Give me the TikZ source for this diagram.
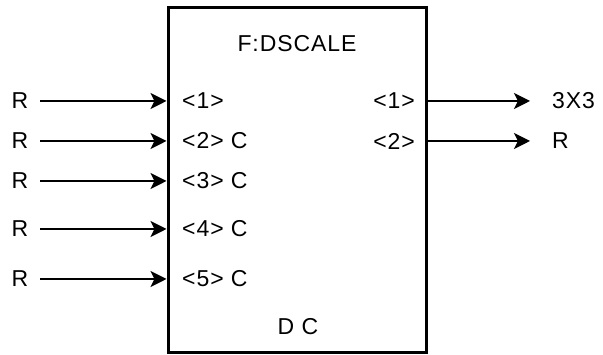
\documentclass[tikz,border=0pt]{standalone}
\usepackage{fontspec}
\setmainfont[LetterSpace=4]{Liberation Sans}
\usetikzlibrary{arrows.meta}
\begin{document}
\begin{tikzpicture}[x=1pt,y=1pt,
  lbl/.style={inner sep=0pt, font=\fontsize{23}{26}\selectfont},
  sig/.style={line width=1.6pt, -{Stealth[length=16pt,width=16pt,inset=4pt]}},
  blk/.style={draw, line width=3pt, inner sep=0pt}]
\useasboundingbox (0,0) rectangle (603,355);
\fill[white] (0,0) rectangle (603,355);
\node[blk, minimum width=258pt, minimum height=345pt] (box) at (297,174.5) {};
\node[lbl] (title) at (297,311) {F:DSCALE};
\node[lbl] (dc) at (298,28) {D C};
% inputs
\foreach \i/\y/\t in {1/254/{<1>},2/214/{<2> C},3/174/{<3> C},4/126/{<4> C},5/76/{<5> C}}{
  \node[lbl] (r\i) at (20,\y) {R};
  \coordinate (s\i) at (40,\y);
  \coordinate (e\i) at (box.west |- 0,\y);
  \node[lbl, anchor=west] (p\i) at (182,\y) {\t};
  \draw[sig] (s\i) -- (e\i);
}
% outputs
\foreach \i/\y/\t/\o in {1/254/{<1>}/{3X3},2/214/{<2>}/{R}}{
  \coordinate (os\i) at (box.east |- 0,\y);
  \coordinate (oe\i) at (530,\y);
  \node[lbl, anchor=east] (q\i) at (415,\y) {\t};
  \node[lbl, anchor=west] (o\i) at (552,\y) {\o};
  \draw[sig] (os\i) -- (oe\i);
}
\end{tikzpicture}
\end{document}
